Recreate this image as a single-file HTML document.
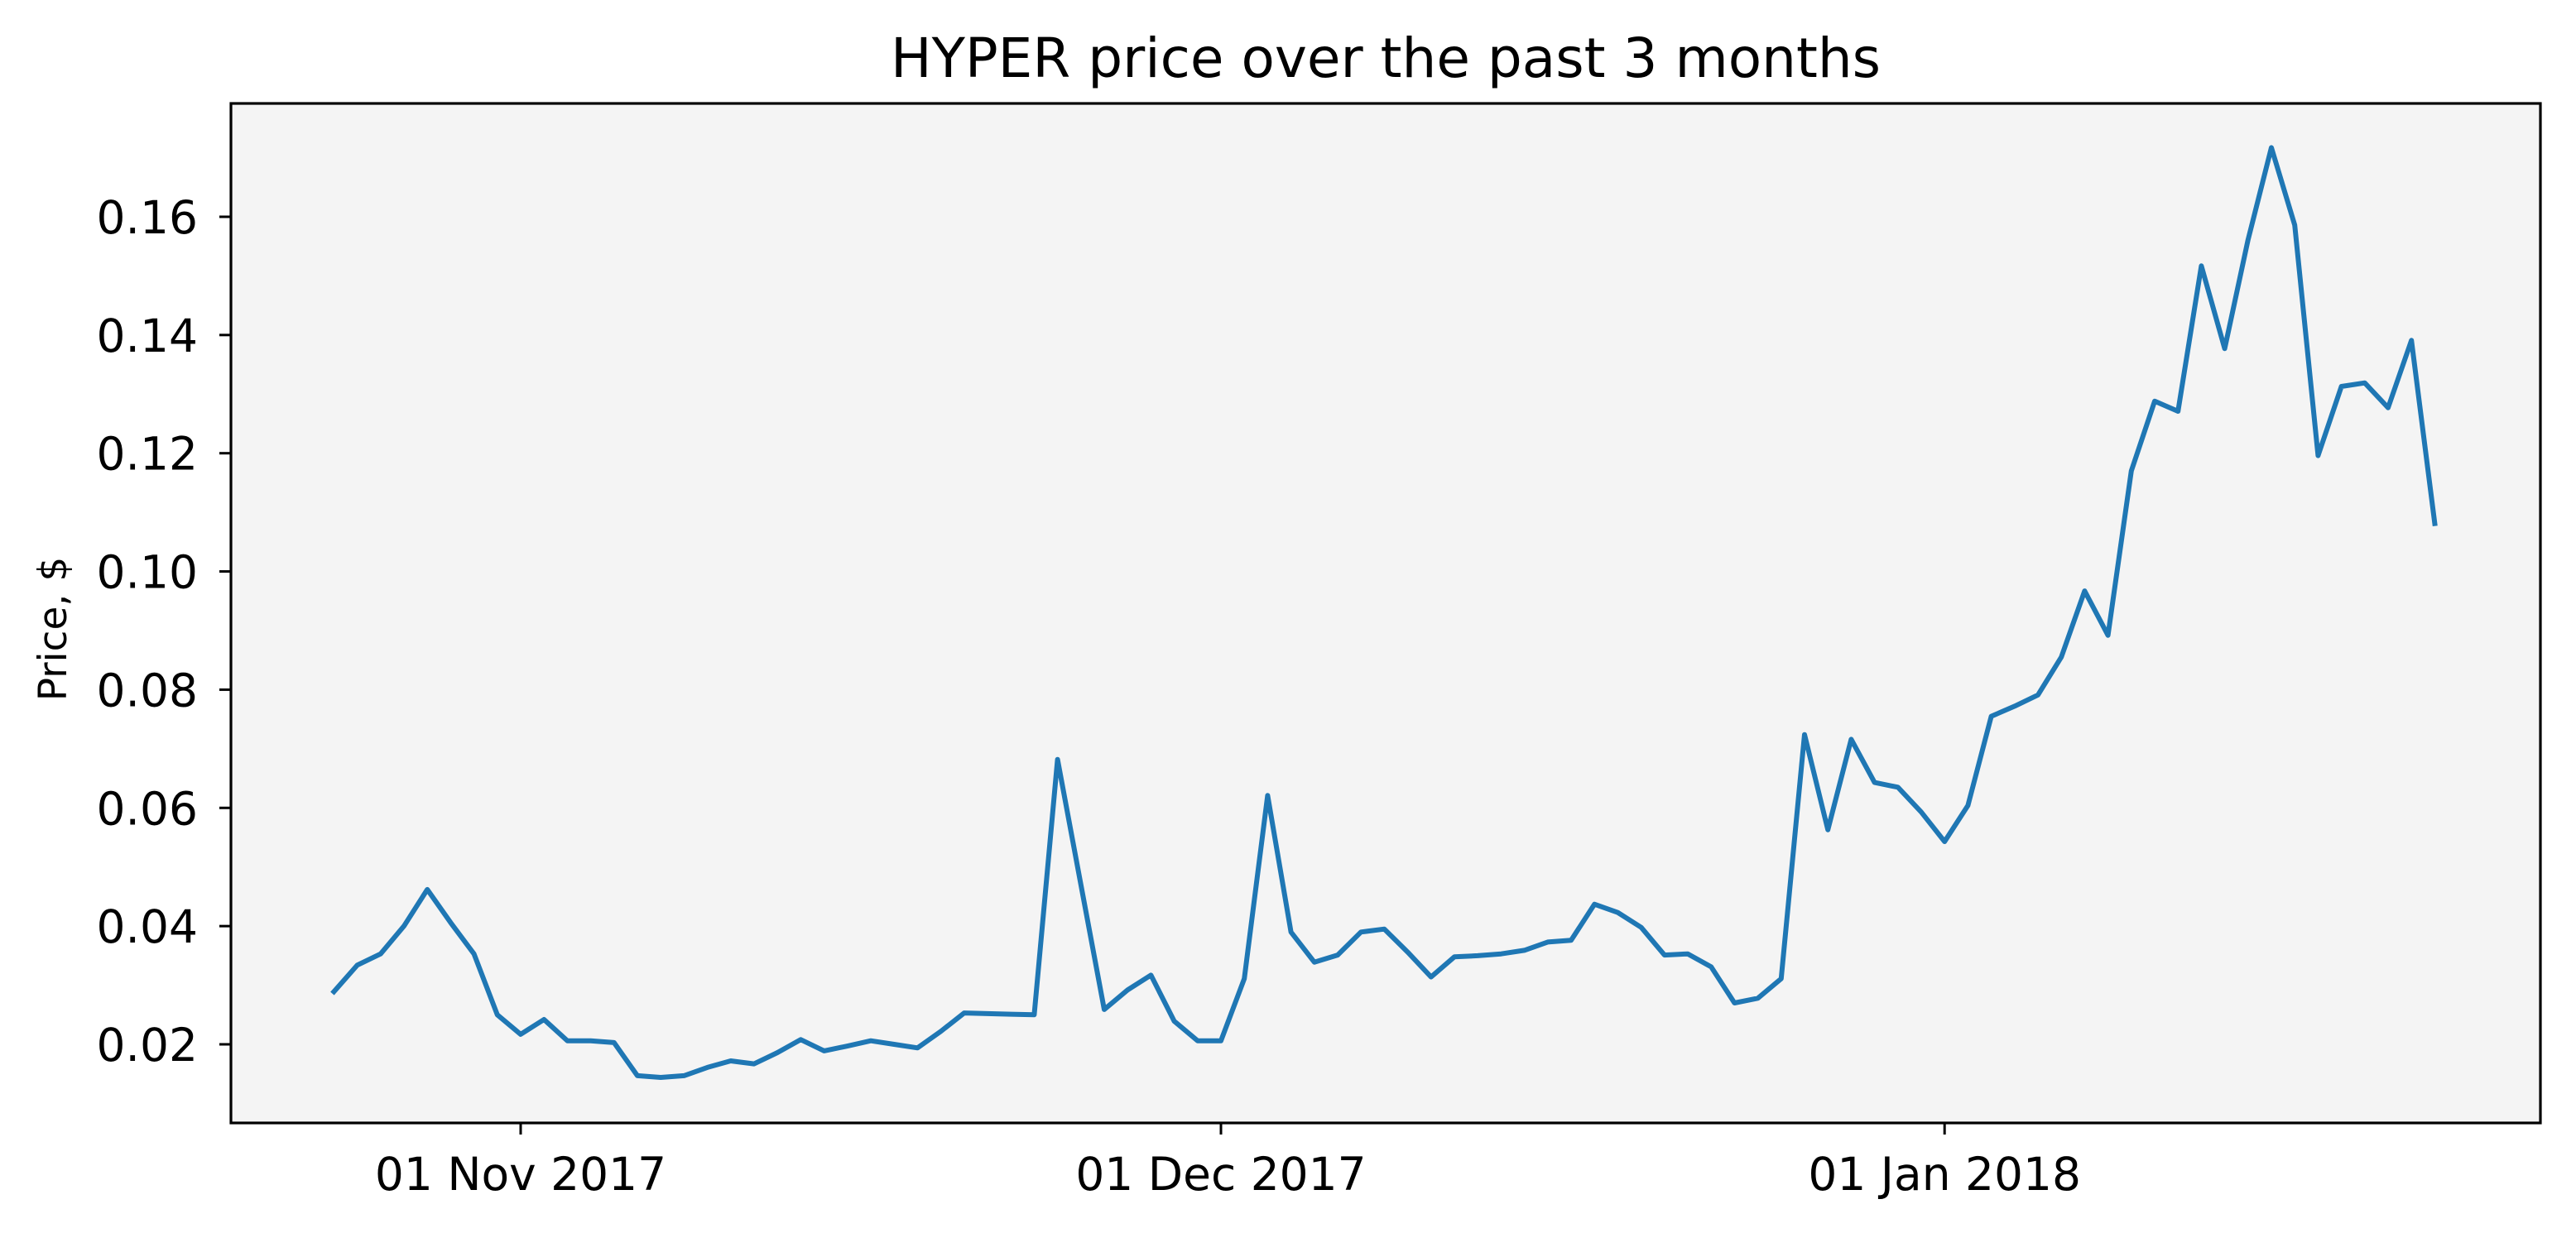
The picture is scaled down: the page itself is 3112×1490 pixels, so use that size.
<!DOCTYPE html>
<html><head><meta charset="utf-8"><style>
html,body{margin:0;padding:0;background:#fff;}
svg{display:block;font-family:"DejaVu Sans","Liberation Sans",sans-serif;}
</style></head><body>
<svg id="chart" width="3112" height="1490" viewBox="0 0 3112 1490" xmlns="http://www.w3.org/2000/svg">
<rect x="0" y="0" width="3112" height="1490" fill="#ffffff"/>
<rect x="279" y="125" width="2790" height="1232" fill="#f4f4f4"/>
<text x="1674" y="93" font-size="66" text-anchor="middle" fill="#000">HYPER price over the past 3 months</text>
<text transform="translate(80,760) rotate(-90)" font-size="47" text-anchor="middle" fill="#000">Price, $</text>
<g id="yticks"></g>
<g id="xticks"></g>
<polyline id="series" fill="none" stroke="#1f77b4" stroke-width="6" stroke-linejoin="round" stroke-linecap="square"/>
<rect x="279" y="125" width="2790" height="1232" fill="none" stroke="#000" stroke-width="3.2"/>
</svg>
<script>
// day offsets relative to 01 Nov 2017 (first point = 24 Oct 2017)
const startDay = -8;
const prices = [0.0289,0.0334,0.0353,0.0400,0.0462,0.0406,0.0353,0.0250,0.0217,0.0242,
0.0206,0.0206,0.0203,0.0147,0.0144,0.0147,0.0161,0.0172,0.0167,0.0186,
0.0208,0.0189,0.0197,0.0206,0.0200,0.0194,0.0222,0.0253,0.0252,0.0251,
0.0250,0.0682,0.0470,0.0259,0.0292,0.0317,0.0239,0.0206,0.0206,0.0311,
0.0621,0.0390,0.0339,0.0351,0.0390,0.0395,0.0356,0.0314,0.0348,0.0350,
0.0353,0.0359,0.0373,0.0376,0.0437,0.0423,0.0398,0.0351,0.0353,0.0331,
0.0270,0.0278,0.0311,0.0724,0.0563,0.0716,0.0643,0.0635,0.0593,0.0543,
0.0604,0.0755,0.0772,0.0791,0.0855,0.0967,0.0892,0.1170,0.1288,0.1271,
0.1517,0.1377,0.1561,0.1717,0.1586,0.1196,0.1313,0.1319,0.1277,0.1391,0.1081];
const yTickValues = [0.02,0.04,0.06,0.08,0.10,0.12,0.14,0.16];
const yTickLabels = ["0.02","0.04","0.06","0.08","0.10","0.12","0.14","0.16"];
const xTickDays = [0,30,61];
const xTickLabels = ["01 Nov 2017","01 Dec 2017","01 Jan 2018"];

const NS="http://www.w3.org/2000/svg";
function xScale(day){ return 629 + day*28.2; }
function yScale(v){ return 1262 - (v-0.02)/0.02*142.86; }

const pts = prices.map((v,i)=>xScale(startDay+i).toFixed(1)+","+yScale(v).toFixed(1)).join(" ");
document.getElementById('series').setAttribute('points', pts);

const yg=document.getElementById('yticks');
yTickValues.forEach((v,i)=>{
  const y=yScale(v);
  const l=document.createElementNS(NS,'line');
  l.setAttribute('x1',265); l.setAttribute('x2',279);
  l.setAttribute('y1',y); l.setAttribute('y2',y);
  l.setAttribute('stroke','#000'); l.setAttribute('stroke-width','3');
  
  
  yg.appendChild(l);
  const t=document.createElementNS(NS,'text');
  t.setAttribute('x',239); t.setAttribute('y',y+20);
  t.setAttribute('font-size','55'); t.setAttribute('text-anchor','end');
  t.textContent=yTickLabels[i];
  
  
  yg.appendChild(t);
});
const xg=document.getElementById('xticks');
xTickDays.forEach((d,i)=>{
  const x=xScale(d);
  const l=document.createElementNS(NS,'line');
  l.setAttribute('x1',x); l.setAttribute('x2',x);
  l.setAttribute('y1',1357); l.setAttribute('y2',1371);
  l.setAttribute('stroke','#000'); l.setAttribute('stroke-width','3');
  
  
  xg.appendChild(l);
  const t=document.createElementNS(NS,'text');
  t.setAttribute('x',x); t.setAttribute('y',1438);
  t.setAttribute('font-size','55'); t.setAttribute('text-anchor','middle');
  t.textContent=xTickLabels[i];
  
  
  xg.appendChild(t);
});
</script>
</body></html>
